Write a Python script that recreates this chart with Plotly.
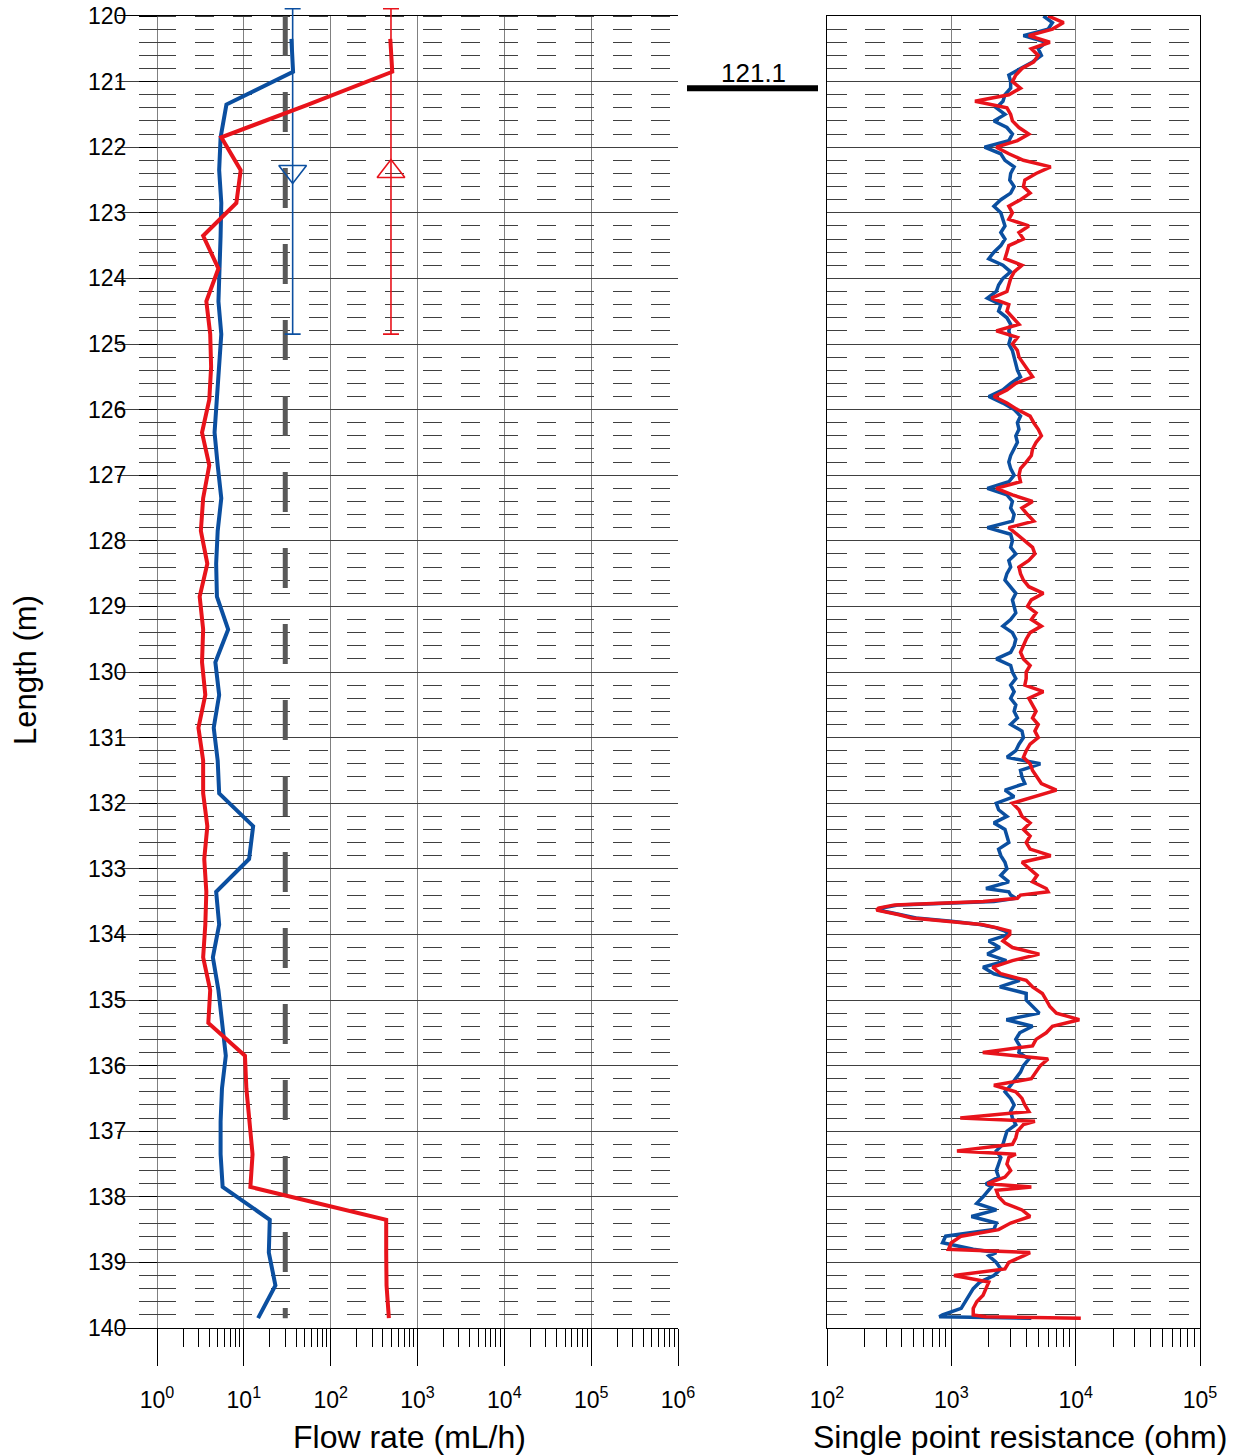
import plotly.graph_objects as go

# ---------------- data ----------------
flow_depth = [120.35, 120.85, 121.35, 121.85, 122.35, 122.85, 123.35, 123.85, 124.35, 124.85,
              125.35, 125.85, 126.35, 126.85, 127.35, 127.85, 128.35, 128.85, 129.35, 129.85,
              130.35, 130.85, 131.35, 131.85, 132.35, 132.85, 133.35, 133.85, 134.35, 134.85,
              135.35, 135.85, 136.35, 136.85, 137.35, 137.85, 138.35, 138.85, 139.35, 139.85]
flow_blue = [35.3, 36.9, 6.3, 5.4, 5.2, 5.5, 5.4, 5.2, 5.1, 5.5,
             5.2, 4.9, 4.6, 5.0, 5.5, 5.0, 4.8, 4.9, 6.6, 4.7,
             5.2, 4.5, 5.0, 5.2, 12.8, 11.5, 4.8, 5.2, 4.4, 5.1,
             5.6, 6.2, 5.6, 5.4, 5.4, 5.7, 19.9, 19.4, 23.1, 14.6]
flow_red = [486, 512, 55, 5.5, 9.2, 8.2, 3.4, 5.1, 3.7, 4.1,
            4.2, 4.0, 3.3, 4.0, 3.4, 3.2, 3.8, 3.1, 3.4, 3.3,
            3.6, 3.0, 3.4, 3.4, 3.8, 3.5, 3.7, 3.6, 3.4, 4.1,
            3.9, 10.3, 10.7, 11.5, 12.6, 11.9, 436, 436, 440, 468]

limit_depth = [120.0, 139.85]
limit_flow = [30, 30]

interval_center = [122.37]
interval_half = [2.48]
interval_flow_blue = [36.5]
interval_flow_red = [495]

res_depth = [120.0, 120.1, 120.2, 120.3, 120.4, 120.5, 120.6, 120.7, 120.8, 120.9,
             121.0, 121.1, 121.2, 121.3, 121.4, 121.5, 121.6, 121.7, 121.8, 121.9,
             122.0, 122.1, 122.2, 122.3, 122.4, 122.5, 122.6, 122.7, 122.8, 122.9,
             123.0, 123.1, 123.2, 123.3, 123.4, 123.5, 123.6, 123.7, 123.8, 123.9,
             124.0, 124.1, 124.2, 124.3, 124.4, 124.5, 124.6, 124.7, 124.8, 124.9,
             125.0, 125.1, 125.2, 125.3, 125.4, 125.5, 125.6, 125.7, 125.8, 125.9,
             126.0, 126.1, 126.2, 126.3, 126.4, 126.5, 126.6, 126.7, 126.8, 126.9,
             127.0, 127.1, 127.2, 127.3, 127.4, 127.5, 127.6, 127.7, 127.8, 127.9,
             128.0, 128.1, 128.2, 128.3, 128.4, 128.5, 128.6, 128.7, 128.8, 128.9,
             129.0, 129.1, 129.2, 129.3, 129.4, 129.5, 129.6, 129.7, 129.8, 129.9,
             130.0, 130.1, 130.2, 130.3, 130.4, 130.5, 130.6, 130.7, 130.8, 130.9,
             131.0, 131.1, 131.2, 131.3, 131.4, 131.5, 131.6, 131.7, 131.8, 131.9,
             132.0, 132.1, 132.2, 132.3, 132.4, 132.5, 132.6, 132.7, 132.8, 132.9,
             133.0, 133.1, 133.2, 133.3, 133.35, 133.4, 133.45, 133.5, 133.55, 133.6,
             133.63, 133.67, 133.7, 133.75, 133.8, 133.85, 133.9, 133.95, 134.0, 134.1,
             134.2, 134.3, 134.4, 134.5, 134.6, 134.7, 134.8, 134.9, 135.0, 135.1,
             135.2, 135.3, 135.4, 135.5, 135.6, 135.7, 135.8, 135.9, 136.0, 136.1,
             136.2, 136.3, 136.4, 136.5, 136.6, 136.7, 136.8, 136.85, 136.9, 137.0,
             137.1, 137.2, 137.3, 137.35, 137.4, 137.5, 137.6, 137.7, 137.8, 137.85,
             137.9, 138.0, 138.1, 138.2, 138.3, 138.4, 138.5, 138.6, 138.7, 138.8,
             138.85, 138.9, 139.0, 139.1, 139.2, 139.3, 139.4, 139.5, 139.6, 139.7,
             139.8, 139.83, 139.85]
res_blue = [5500, 6500, 6000, 3800, 5800, 5000, 5300, 4500, 3600, 2900,
            3000, 3000, 2700, 2600, 2300, 2700, 2200, 2800, 3100, 2900,
            1850, 2500, 2700, 3200, 3000, 2950, 3200, 3000, 2500, 2200,
            2500, 2600, 2700, 2500, 2700, 2500, 2200, 2000, 2600, 3000,
            2600, 2400, 2300, 1950, 2500, 2400, 2800, 3000, 2900, 3000,
            2900, 3100, 3200, 3300, 3400, 3600, 3000, 2600, 2000, 2600,
            3200, 3600, 3400, 3500, 3300, 3400, 3200, 3000, 2900, 3000,
            3200, 2900, 1950, 2800, 3100, 3000, 3200, 3100, 1950, 3000,
            3100, 3000, 3300, 2900, 3000, 2800, 2700, 3000, 3300, 3100,
            3200, 3300, 3000, 2600, 3100, 3300, 3200, 3000, 2300, 3000,
            3100, 3300, 3000, 3200, 3000, 3300, 3200, 3400, 3000, 3700,
            3800, 3500, 3300, 2800, 5200, 3600, 3700, 3900, 2700, 3200,
            2300, 2400, 2800, 2200, 2700, 2800, 2900, 2400, 2500, 2700,
            2800, 2500, 2900, 1900, 2900, 3000, 3300, 2200, 380, 270,
            260, 330, 400, 520, 1000, 1700, 2300, 2700, 2900, 2000,
            2450, 1950, 2770, 1800, 2200, 3550, 2450, 4000, 4000, 4500,
            5100, 2770, 4500, 3550, 3300, 3550, 3500, 4200, 3800, 3600,
            3300, 3000, 2700, 3000, 3200, 3000, 3100, 3200, 3300, 2800,
            2700, 2600, 2300, 2400, 2500, 2400, 2300, 2400, 1900, 2100,
            2000, 1800, 1600, 2300, 1450, 2300, 2200, 900, 850, 1500,
            2300, 2000, 2300, 2500, 2200, 1700, 1500, 1400, 1300, 1200,
            850, 800, 4400]
res_red = [6000, 8000, 6500, 4200, 6200, 4400, 5000, 4600, 3700, 3300,
           3100, 3600, 2900, 1550, 2800, 3000, 3100, 3500, 4200, 3400,
           2300, 2900, 3800, 6300, 4800, 3900, 3800, 4300, 3600, 2900,
           3100, 2900, 4200, 3500, 3800, 2900, 2800, 2700, 3700, 3200,
           3000, 2900, 2800, 2100, 2900, 2800, 3100, 3500, 2300, 3400,
           3100, 3400, 3500, 3800, 4100, 4500, 3300, 2800, 2200, 2800,
           3400, 4300, 4600, 5000, 5300, 4800, 4500, 4400, 4000, 3600,
           3500, 3600, 2300, 3100, 4500, 3700, 4100, 4600, 2900, 3400,
           3900, 4500, 4700, 4200, 3500, 3600, 3800, 4200, 5500, 4400,
           4100, 4800, 4400, 5300, 4300, 4000, 3800, 3600, 3800, 4300,
           4000, 4000, 3900, 5500, 4200, 4500, 4800, 4500, 5000, 4700,
           5000, 4300, 4000, 3800, 4300, 4500, 4900, 5300, 7000, 4600,
           3100, 3500, 3700, 4300, 3800, 4300, 4000, 4300, 6300, 3700,
           4300, 4900, 4500, 5800, 6000, 3600, 3400, 1800, 350, 260,
           250, 330, 380, 480, 950, 1750, 2350, 2950, 2950, 2600,
           3100, 5100, 3100, 2150, 2500, 4000, 4500, 5400, 5800, 6200,
           7000, 10700, 6500, 5800, 4800, 4500, 1790, 6000, 5200, 4800,
           4400, 2200, 3300, 3700, 3900, 4200, 1180, 4700, 3800, 3400,
           3300, 3100, 1110, 3300, 2900, 2800, 3000, 2700, 1950, 4400,
           2300, 2400, 2700, 3700, 4300, 3000, 2400, 1200, 1000, 950,
           4300, 3800, 2900, 2700, 1050, 2000, 1900, 1800, 1600, 1500,
           1500, 1900, 11000]

marker_depth = [121.1]
marker_label = ["121.1"]

flow_ticks = [1, 10, 100, 1000, 10000, 100000, 1000000]
flow_ticktext = ["10<sup>0</sup>", "10<sup>1</sup>", "10<sup>2</sup>", "10<sup>3</sup>",
                 "10<sup>4</sup>", "10<sup>5</sup>", "10<sup>6</sup>"]
res_ticks = [100, 1000, 10000, 100000]
res_ticktext = ["10<sup>2</sup>", "10<sup>3</sup>", "10<sup>4</sup>", "10<sup>5</sup>"]
depth_ticks = list(range(120, 141))

# ---------------- geometry (page pixels; body margin removed by post_script) ----------------
BLUE = "#0B4FA0"
RED = "#E8131B"
FONT = "Liberation Sans, Arial, sans-serif"
W, H = 1242, 1456
PLOT_L, PLOT_R = 117, 1200   # page px of plotting area
PLOT_TOP_AREA = 4            # page px of top of the extended left drawing area
Y120, Y140 = 16, 1328        # page px of the 120 m and 140 m lines
PW = PLOT_R - PLOT_L
PH = Y140 - PLOT_TOP_AREA
PX_PER_M = (Y140 - Y120) / 20.0
TOP_DEPTH = 120 - (Y120 - PLOT_TOP_AREA) / PX_PER_M
INNER_TOP = (Y140 - Y120) / PH


def fx(px):
    return (px - PLOT_L) / PW


def fy(py):
    return (Y140 - py) / PH


flow_minor = [m * 10 ** k for k in range(0, 6) for m in range(2, 10)]
res_minor = [m * 10 ** k for k in range(2, 5) for m in range(2, 10)]

fig = go.Figure()

# left panel traces (on x3/y3, above the dashed grid)
fig.add_trace(go.Scatter(x=limit_flow, y=limit_depth, mode="lines",
                         line=dict(color="#595959", width=5, dash="40px,36px"),
                         xaxis="x3", yaxis="y3", showlegend=False, hoverinfo="skip"))
fig.add_trace(go.Scatter(x=interval_flow_blue, y=interval_center, mode="markers",
                         marker=dict(symbol="triangle-down-open", size=24, color=BLUE,
                                     line=dict(width=1.6, color=BLUE)),
                         error_y=dict(type="data", array=interval_half, color=BLUE,
                                      thickness=1.6, width=8),
                         cliponaxis=False, xaxis="x3", yaxis="y3", showlegend=False))
fig.add_trace(go.Scatter(x=interval_flow_red, y=interval_center, mode="markers",
                         marker=dict(symbol="triangle-up-open", size=24, color=RED,
                                     line=dict(width=1.6, color=RED)),
                         error_y=dict(type="data", array=interval_half, color=RED,
                                      thickness=1.6, width=8),
                         cliponaxis=False, xaxis="x3", yaxis="y3", showlegend=False))
fig.add_trace(go.Scatter(x=flow_blue, y=flow_depth, mode="lines",
                         line=dict(color=BLUE, width=4),
                         xaxis="x3", yaxis="y3", showlegend=False))
fig.add_trace(go.Scatter(x=flow_red, y=flow_depth, mode="lines",
                         line=dict(color=RED, width=4),
                         xaxis="x3", yaxis="y3", showlegend=False))

# right panel traces
fig.add_trace(go.Scatter(x=res_blue, y=res_depth, mode="lines",
                         line=dict(color=BLUE, width=3.5),
                         xaxis="x2", yaxis="y2", showlegend=False))
fig.add_trace(go.Scatter(x=res_red, y=res_depth, mode="lines",
                         line=dict(color=RED, width=3.5),
                         xaxis="x2", yaxis="y2", showlegend=False))

GRIDV = "#808080"
GRIDH = "#404040"
DASHC = "#404040"

tickfont = dict(family=FONT, size=23, color="black")

fig.update_layout(
    width=W, height=H, autosize=False,
    margin=dict(l=PLOT_L, r=W - PLOT_R, t=PLOT_TOP_AREA, b=H - Y140, pad=0,
                autoexpand=False),
    paper_bgcolor="white", plot_bgcolor="rgba(0,0,0,0)",
    font=dict(family=FONT, color="black"),
    showlegend=False,
    xaxis=dict(type="log", domain=[0, fx(678)], range=[-0.4607, 6], anchor="y",
               automargin=False,
               tickmode="array", tickvals=flow_ticks, ticktext=flow_ticktext,
               ticks="outside", ticklen=37, tickwidth=1.3, tickcolor="black",
               tickfont=tickfont, ticklabelstandoff=14,
               showgrid=True, gridcolor=GRIDV, gridwidth=1.4,
               showline=True, linecolor="black", linewidth=1.3, mirror=True,
               zeroline=False,
               minor=dict(tickmode="array", tickvals=flow_minor, ticks="outside",
                          ticklen=18, tickwidth=1.3, tickcolor="black", showgrid=False)),
    yaxis=dict(range=[140, 120], domain=[0, INNER_TOP], anchor="x", automargin=False,
               tickmode="array", tickvals=depth_ticks, showticklabels=False, ticks="",
               showgrid=True, gridcolor=GRIDH, gridwidth=1.4, zeroline=False,
               showline=False),
    xaxis3=dict(type="log", domain=[fx(157), fx(678)], range=[0, 6], anchor="y3",
                visible=False, automargin=False),
    yaxis3=dict(range=[140, TOP_DEPTH], domain=[0, 1], anchor="free", position=fx(157),
                automargin=False, ticklabeloverflow="allow",
                tickmode="array", tickvals=depth_ticks, ticks="outside", ticklen=18,
                tickwidth=1.3, tickcolor="black", tickfont=tickfont, ticklabelstandoff=8,
                showgrid=False, zeroline=False, showline=False,
                minor=dict(dtick=0.2, tick0=120, ticks="outside", ticklen=18, tickwidth=1.3,
                           tickcolor=DASHC, showgrid=True, gridcolor=DASHC, gridwidth=1.3,
                           griddash="19px,19px")),
    xaxis2=dict(type="log", domain=[fx(827), 1], range=[2, 5], anchor="y2",
                automargin=False,
                tickmode="array", tickvals=res_ticks, ticktext=res_ticktext,
                ticks="outside", ticklen=37, tickwidth=1.3, tickcolor="black",
                tickfont=tickfont, ticklabelstandoff=14,
                showgrid=True, gridcolor=GRIDV, gridwidth=1.4,
                showline=True, linecolor="black", linewidth=1.3, mirror=True,
                zeroline=False,
                minor=dict(tickmode="array", tickvals=res_minor, ticks="outside",
                           ticklen=18, tickwidth=1.3, tickcolor="black", showgrid=False)),
    yaxis2=dict(range=[140, 120], domain=[0, INNER_TOP], anchor="x2", automargin=False,
                tickmode="array", tickvals=depth_ticks, showticklabels=False, ticks="",
                showgrid=True, gridcolor=GRIDH, gridwidth=1.4, zeroline=False,
                showline=True, linecolor="black", linewidth=1.3, mirror=True,
                minor=dict(dtick=0.2, tick0=120, ticks="", showgrid=True, gridcolor=DASHC,
                           gridwidth=1.3, griddash="20px,18px")),
)

# axis titles
fig.add_annotation(text="Flow rate (mL/h)", xref="paper", yref="paper",
                   x=fx(409), y=fy(1437), xanchor="center", yanchor="middle",
                   showarrow=False, font=dict(family=FONT, size=32, color="black"))
fig.add_annotation(text="Single point resistance (ohm)", xref="paper", yref="paper",
                   x=fx(1020), y=fy(1437), xanchor="center", yanchor="middle",
                   showarrow=False, font=dict(family=FONT, size=32, color="black"))
fig.add_annotation(text="Length (m)", xref="paper", yref="paper",
                   x=fx(25), y=fy(670), xanchor="center", yanchor="middle", textangle=-90,
                   showarrow=False, font=dict(family=FONT, size=31, color="black"))

# 121.1 marker between the panels
fig.add_shape(type="line", xref="paper", yref="y", x0=fx(687), x1=fx(818),
              y0=marker_depth[0], y1=marker_depth[0],
              line=dict(color="black", width=6))
fig.add_annotation(text=marker_label[0], xref="paper", yref="y",
                   x=fx(753), y=marker_depth[0], xanchor="center", yanchor="bottom",
                   yshift=-2, showarrow=False,
                   font=dict(family=FONT, size=26, color="black"))

fig.write_html("out.html", config={"displayModeBar": False},
               post_script="document.body.style.margin='0';document.body.style.overflow='hidden';")
